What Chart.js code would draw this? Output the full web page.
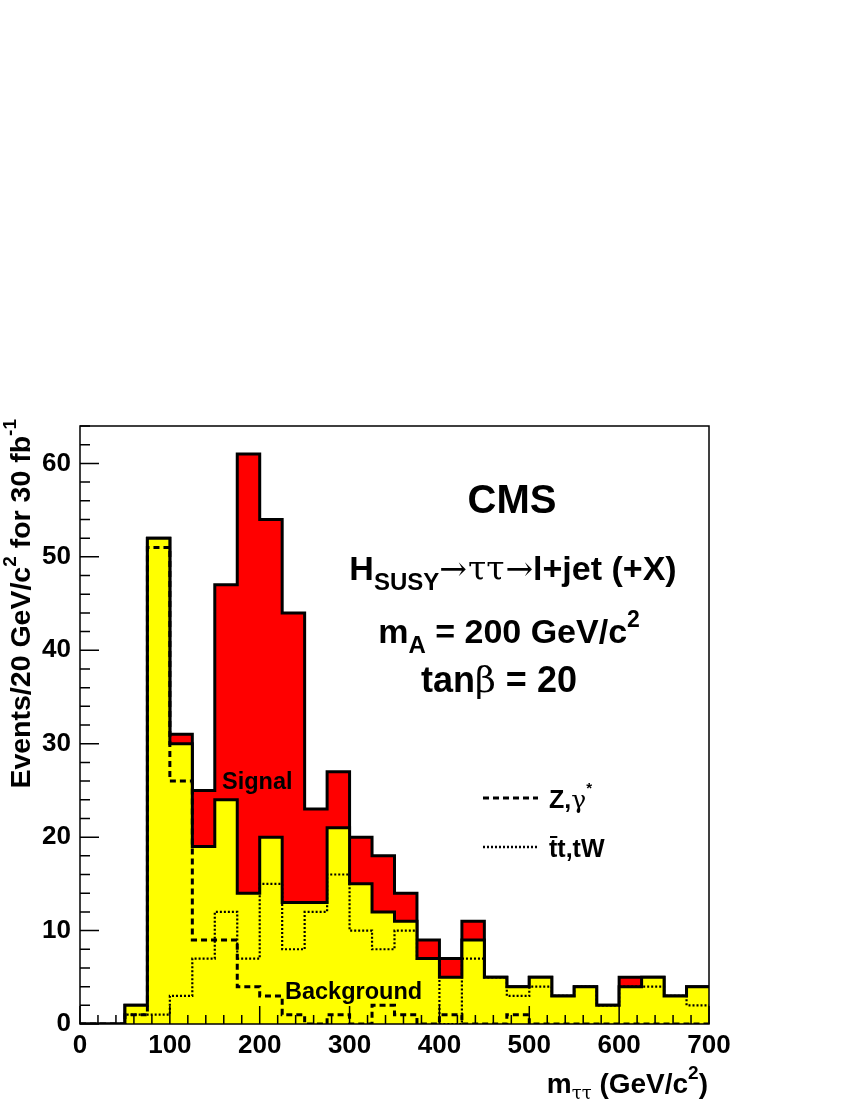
<!DOCTYPE html>
<html>
<head>
<meta charset="utf-8">
<script src="https://cdn.jsdelivr.net/npm/chart.js@4.4.1/dist/chart.umd.min.js"></script>
<style>
html,body{margin:0;padding:0;background:#fff;}
canvas{display:block;}
</style>
</head>
<body>
<canvas id="c" width="850" height="1100"></canvas>
<script>
// Bin edges in GeV/c^2 (25 GeV bins)
const binEdges = [0,25,50,75,100,125,150,175,200,225,250,275,300,325,350,375,400,425,450,475,500,525,550,575,600,625,650,675,700];
// Signal + background (total)
const totalCounts = [0,0,2,52,31,25,47,61,54,44,23,27,20,18,14,9,7,11,5,4,5,3,4,2,5,5,3,4];
// Background only
const backgroundCounts = [0,0,2,52,30,19,24,14,20,13,13,21,15,12,11,7,5,9,5,4,5,3,4,2,4,5,3,4];
// Z,gamma* component
const zGammaCounts = [0,0,1,51,26,9,9,4,3,1,0,1,0,2,1,0,1,0,0,1,0,0,0,0,0,0,0,0];
// ttbar, tW component
const ttbarCounts = [0,0,1,1,3,7,12,7,15,8,12,16,10,8,10,7,0,7,5,3,4,3,4,2,4,4,3,2];

const xTickValues = [0,100,200,300,400,500,600,700];
const xTickLabels = ['0','100','200','300','400','500','600','700'];
const yTickValues = [0,10,20,30,40,50,60];
const yTickLabels = ['0','10','20','30','40','50','60'];

function histPoints(vals){
  const pts = vals.map((v,i)=>({x:binEdges[i], y:v}));
  pts.push({x:binEdges[binEdges.length-1], y:vals[vals.length-1]});
  return pts;
}

const B = s => `bold ${s}px "Liberation Sans", Arial, Helvetica, sans-serif`;
const S = s => `${s}px "DejaVu Serif", "Liberation Serif", serif`;

function rich(ctx, runs, x, y, align){
  let w = 0;
  runs.forEach(r=>{ctx.font=r.font; r.w=ctx.measureText(r.t).width; w+=r.w+(r.gap||0);});
  let cx = align==='center' ? x-w/2 : align==='right' ? x-w : x;
  const out=[];
  runs.forEach(r=>{ctx.font=r.font; ctx.fillText(r.t, cx, y+(r.dy||0)); out.push({x:cx,w:r.w}); cx+=r.w+(r.gap||0);});
  return out;
}

const decor = {
  id:'decor',
  afterDatasetsDraw(chart){
    const ctx = chart.ctx;
    const a = chart.chartArea;
    const xs = chart.scales.x, ys = chart.scales.y;
    ctx.save();
    // frame
    ctx.strokeStyle='#000'; ctx.lineWidth=1.5;
    ctx.strokeRect(a.left, a.top, a.right-a.left, a.bottom-a.top);
    // ticks (inward)
    ctx.lineWidth=1.5;
    ctx.beginPath();
    for(let v=0; v<=700; v+=20){
      const px = xs.getPixelForValue(v);
      const len = (v%100===0)?18:9;
      ctx.moveTo(px, a.bottom); ctx.lineTo(px, a.bottom-len);
    }
    for(let v=0; v<=64; v+=2){
      const py = ys.getPixelForValue(v);
      const len = (v%10===0)?19:10;
      ctx.moveTo(a.left, py); ctx.lineTo(a.left+len, py);
    }
    ctx.stroke();

    ctx.fillStyle='#000';
    ctx.textBaseline='alphabetic';
    // annotations
    rich(ctx,[{t:'CMS',font:B(40)}],512,513,'center');
    rich(ctx,[{t:'H',font:B(34)},{t:'SUSY',font:B(24),dy:10},{t:'→',font:S(33),gap:1},{t:'ττ',font:S(33),gap:1},{t:'→',font:S(33)},{t:'l+jet (+X)',font:B(34)}],513,580,'center');
    rich(ctx,[{t:'m',font:B(34)},{t:'A',font:B(24),dy:10},{t:' = 200 GeV/c',font:B(34)},{t:'2',font:B(23),dy:-16}],509,643,'center');
    rich(ctx,[{t:'tan',font:B(36)},{t:'β',font:S(36)},{t:' = 20',font:B(36)}],499,692,'center');

    rich(ctx,[{t:'Signal',font:B(23.5)}],222,789,'left');
    rich(ctx,[{t:'Background',font:B(23.5)}],285,999,'left');

    // legend
    ctx.lineWidth=3;
    ctx.setLineDash([6,4]);
    ctx.beginPath(); ctx.moveTo(483,798); ctx.lineTo(538,798); ctx.stroke();
    ctx.lineWidth=2.5;
    ctx.setLineDash([2,2]);
    ctx.beginPath(); ctx.moveTo(483,847); ctx.lineTo(538,847); ctx.stroke();
    ctx.setLineDash([]);
    rich(ctx,[{t:'Z,',font:B(25)},{t:'γ',font:S(25)},{t:'*',font:B(15),dy:-15}],549,808,'left');
    const seg = rich(ctx,[{t:'t',font:B(25)},{t:'t,tW',font:B(25)}],549,857,'left');
    ctx.lineWidth=2;
    ctx.beginPath(); ctx.moveTo(seg[0].x+1, 857-20); ctx.lineTo(seg[0].x+seg[0].w, 857-20); ctx.stroke();

    // axis titles
    rich(ctx,[{t:'m',font:B(28)},{t:'ττ',font:S(18),dy:6},{t:' (GeV/c',font:B(28)},{t:'2',font:B(19),dy:-14},{t:')',font:B(28)}],708,1093,'right');
    ctx.translate(30,419);
    ctx.rotate(-Math.PI/2);
    rich(ctx,[{t:'Events/20 GeV/c',font:B(28.5)},{t:'2',font:B(19),dy:-14},{t:' for 30 fb',font:B(28.5)},{t:'-1',font:B(19),dy:-14}],0,0,'right');
    ctx.restore();
  }
};

const lineBase = {pointRadius:0, tension:0, stepped:'before'};

new Chart(document.getElementById('c'), {
  type:'line',
  data:{
    datasets:[
      Object.assign({label:'Signal', data:histPoints(totalCounts), borderColor:'#000', borderWidth:3, backgroundColor:'#ff0000', fill:'origin', order:4}, lineBase),
      Object.assign({label:'Background', data:histPoints(backgroundCounts), borderColor:'#000', borderWidth:3, backgroundColor:'#ffff00', fill:'origin', order:3}, lineBase),
      Object.assign({label:'Z,γ*', data:histPoints(zGammaCounts), borderColor:'#000', borderWidth:3, borderDash:[6,4], fill:false, order:2}, lineBase),
      Object.assign({label:'tt,tW', data:histPoints(ttbarCounts), borderColor:'#000', borderWidth:2.2, borderDash:[2,2], fill:false, order:1}, lineBase)
    ]
  },
  options:{
    responsive:false, animation:false, devicePixelRatio:1,
    layout:{padding:{left:0,right:141,top:426,bottom:0}},
    plugins:{legend:{display:false}, tooltip:{enabled:false}},
    scales:{
      x:{type:'linear', min:0, max:700,
         grid:{display:false, drawTicks:false}, border:{display:false},
         afterBuildTicks: s => { s.ticks = xTickValues.map(v=>({value:v})); },
         afterFit: s => { s.height = 76; },
         ticks:{padding:6, color:'#000', font:{family:'"Liberation Sans", Arial, sans-serif', weight:'bold', size:26},
                maxRotation:0, autoSkip:false,
                callback:(v)=>{const i=xTickValues.indexOf(v); return i>=0?xTickLabels[i]:'';}}},
      y:{type:'linear', min:0, max:64,
         grid:{display:false, drawTicks:false}, border:{display:false},
         afterBuildTicks: s => { s.ticks = yTickValues.map(v=>({value:v})); },
         afterFit: s => { s.width = 80; },
         ticks:{padding:9, color:'#000', font:{family:'"Liberation Sans", Arial, sans-serif', weight:'bold', size:26},
                autoSkip:false,
                callback:(v)=>{const i=yTickValues.indexOf(v); return i>=0?yTickLabels[i]:'';}}}
    }
  },
  plugins:[decor]
});
</script>
</body>
</html>
